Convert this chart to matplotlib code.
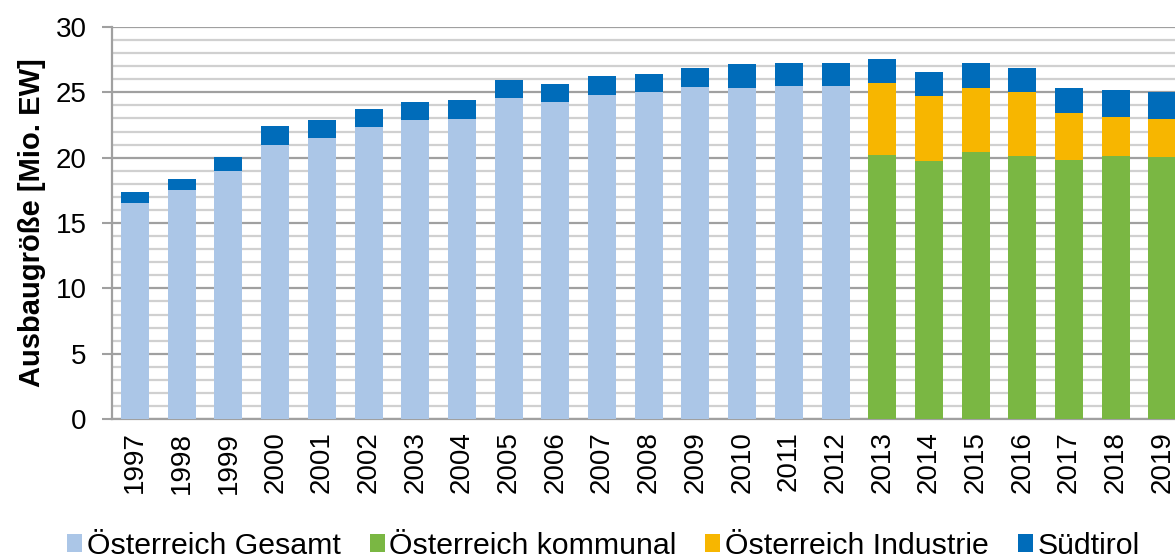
import numpy as np
import matplotlib.pyplot as plt
from matplotlib.ticker import MultipleLocator

plt.rcParams['font.family'] = ['Liberation Sans', 'DejaVu Sans']

years = [str(y) for y in range(1997, 2020)]

# Mio. EW
gesamt = [16.5, 17.5, 18.95, 21.0, 21.5, 22.35, 22.85, 22.95, 24.6, 24.25,
          24.8, 25.0, 25.4, 25.35, 25.5, 25.45] + [0] * 7
kommunal = [0] * 16 + [20.2, 19.75, 20.45, 20.15, 19.8, 20.15, 20.05]
industrie = [0] * 16 + [5.55, 5.0, 4.9, 4.85, 3.6, 3.0, 2.9]
suedtirol = [0.85, 0.9, 1.1, 1.4, 1.4, 1.4, 1.4, 1.5, 1.35, 1.4,
             1.45, 1.4, 1.5, 1.8, 1.75, 1.8, 1.8, 1.8, 1.9, 1.9, 1.95, 2.05, 2.05]

c_ges = '#abc6e7'
c_kom = '#7ab743'
c_ind = '#f7b600'
c_sud = '#006cba'

fig = plt.figure(figsize=(11.75, 5.58), dpi=100)
ax = fig.add_axes([0.0951, 0.249, 0.9049, 0.7026])

x = np.arange(len(years))
w = 0.6
ges = np.array(gesamt)
kom = np.array(kommunal)
ind = np.array(industrie)
sud = np.array(suedtirol)

ax.bar(x, ges, w, color=c_ges, label='Österreich Gesamt', zorder=3)
ax.bar(x, kom, w, color=c_kom, label='Österreich kommunal', zorder=3)
ax.bar(x, ind, w, bottom=kom, color=c_ind, label='Österreich Industrie', zorder=3)
ax.bar(x, sud, w, bottom=ges + kom + ind, color=c_sud, label='Südtirol', zorder=3)

ax.set_xlim(-0.5, 22.27)
ax.set_ylim(0, 30)
ax.yaxis.set_major_locator(MultipleLocator(5))
ax.yaxis.set_minor_locator(MultipleLocator(1))
ax.grid(axis='y', which='minor', color='#d0d0d0', lw=1.6, zorder=0)
ax.grid(axis='y', which='major', color='#a0a0a0', lw=1.6, zorder=1)

ax.set_xticks(x)
ax.set_xticklabels(years, rotation=90, fontsize=20)
ax.tick_params(axis='x', length=0, pad=9)
ax.tick_params(axis='y', which='major', length=7.2, color='#a0a0a0', width=1.5,
               labelsize=20, pad=11)
ax.tick_params(axis='y', which='minor', length=0)

for s in ['top', 'right']:
    ax.spines[s].set_visible(False)
for s in ['left', 'bottom']:
    ax.spines[s].set_color('#a0a0a0')
    ax.spines[s].set_linewidth(1.6)

ax.set_ylabel('Ausbaugröße [Mio. EW]', fontsize=21, fontweight='bold', labelpad=7)

fig.legend(loc='lower left', bbox_to_anchor=(0.034, -0.052), ncol=4, frameon=False,
           fontsize=21.8, handlelength=0.5, handleheight=0.5, handletextpad=0.15,
           columnspacing=0.95)

fig.savefig('out.png', dpi=100)
